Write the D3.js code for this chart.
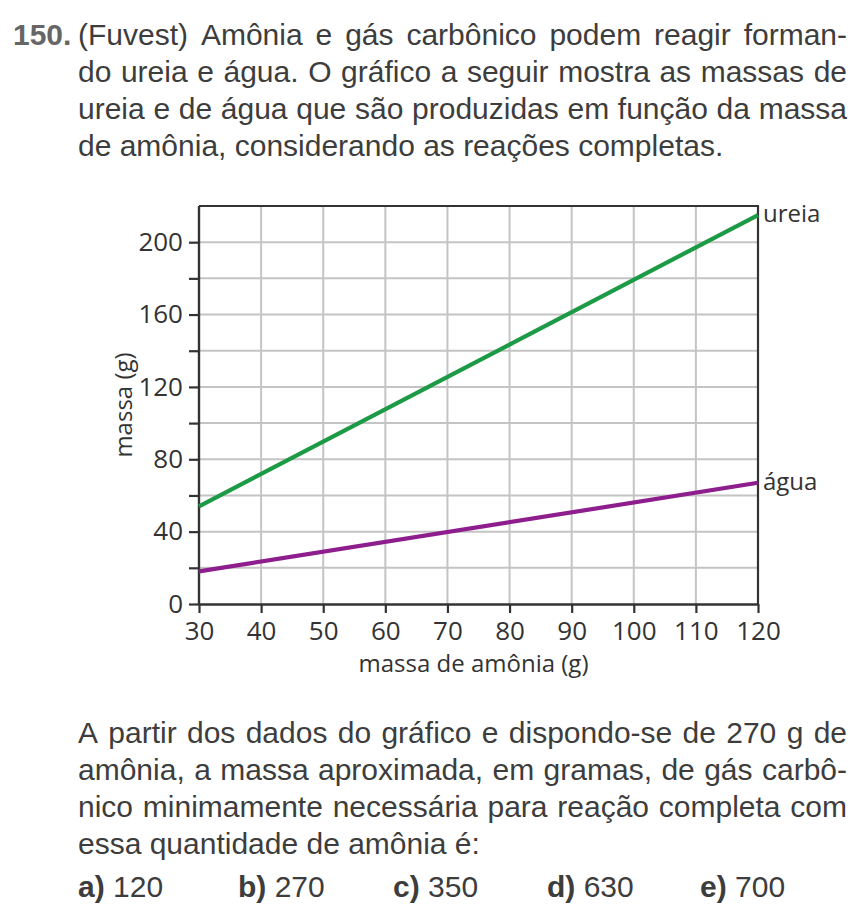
<!DOCTYPE html>
<html><head><meta charset="utf-8">
<script src="https://cdn.jsdelivr.net/npm/d3@7"></script>
<style>
html,body{margin:0;padding:0;background:#fff;}
svg{display:block;}
</style></head>
<body>
<svg id="c" width="864" height="910"></svg>
<script>
// ---- data ----
const xTicks = [30, 40, 50, 60, 70, 80, 90, 100, 110, 120];
const yTicks = [0, 20, 40, 60, 80, 100, 120, 140, 160, 180, 200];
const yLabelTicks = [0, 40, 80, 120, 160, 200];
const ammoniaMass = [30, 120];
const ureiaMass = [54, 215];
const aguaMass = [18, 67];
const seriesNames = ["ureia", "água"];
const questionNumber = "150.";
const introLines = [
  "(Fuvest) Amônia e gás carbônico podem reagir forman-",
  "do ureia e água. O gráfico a seguir mostra as massas de",
  "ureia e de água que são produzidas em função da massa",
  "de amônia, considerando as reações completas."
];
const questionLines = [
  "A partir dos dados do gráfico e dispondo-se de 270 g de",
  "amônia, a massa aproximada, em gramas, de gás carbô-",
  "nico minimamente necessária para reação completa com",
  "essa quantidade de amônia é:"
];
const optionLetters = ["a)", "b)", "c)", "d)", "e)"];
const optionValues = ["120", "270", "350", "630", "700"];

// ---- setup ----
const svg = d3.select("#c");
const textColor = "#3d3d3d";
const bodyFont = "'Liberation Sans', Arial, sans-serif";
const chartFont = "'Open Sans', 'Noto Sans', sans-serif";

const x = d3.scaleLinear().domain([30, 120]).range([199, 758]);
const y = d3.scaleLinear().domain([0, 220]).range([604, 206]);

// justified text helper
function textLine(str, x0, x1, yb, justify) {
  const t = svg.append("text").attr("y", yb)
    .attr("font-family", bodyFont).attr("font-size", 30).attr("fill", textColor);
  const words = str.split(" ");
  const spans = words.map(w => t.append("tspan").text(w));
  const widths = spans.map(s => s.node().getComputedTextLength());
  const total = d3.sum(widths);
  const gap = justify && words.length > 1 ? (x1 - x0 - total) / (words.length - 1) : 8.3;
  let cx = x0;
  spans.forEach((s, i) => { s.attr("x", cx); cx += widths[i] + gap; });
}

// question number
svg.append("text").attr("x", 13).attr("y", 45)
  .attr("font-family", bodyFont).attr("font-size", 30).attr("font-weight", "bold")
  .attr("fill", "#666").text(questionNumber);

const introY = [45, 82, 119, 156];
introLines.forEach((l, i) => textLine(l, 78, 847, introY[i], i < introLines.length - 1));

const qY = [743, 780, 817, 854];
questionLines.forEach((l, i) => textLine(l, 78, 847, qY[i], i < questionLines.length - 1));

const optX = [78, 238, 393, 547, 700];
optionLetters.forEach((L, i) => {
  const t = svg.append("text").attr("x", optX[i]).attr("y", 897)
    .attr("font-family", bodyFont).attr("font-size", 30).attr("fill", textColor);
  t.append("tspan").attr("font-weight", "bold").text(L);
  t.append("tspan").text(" " + optionValues[i]);
});

// ---- chart ----
const g = svg.append("g");
// grid
g.append("g").selectAll("line").data(xTicks.slice(1, -1)).join("line")
  .attr("x1", d => x(d)).attr("x2", d => x(d))
  .attr("y1", y(0)).attr("y2", y(220))
  .attr("stroke", "#c4c4c4").attr("stroke-width", 2);
g.append("g").selectAll("line").data(yTicks.slice(1)).join("line")
  .attr("x1", x(30)).attr("x2", x(120))
  .attr("y1", d => y(d)).attr("y2", d => y(d))
  .attr("stroke", "#c4c4c4").attr("stroke-width", 2);

// frame top/right
g.append("path")
  .attr("d", `M${x(30)},${y(220)}H${x(120)}V${y(0)}`)
  .attr("fill", "none").attr("stroke", "#333").attr("stroke-width", 2.2);

// axes
const yAxis = d3.axisLeft(y).tickValues(yTicks)
  .tickFormat(d => yLabelTicks.includes(d) ? d : "")
  .tickSize(10).tickPadding(6).tickSizeOuter(0);
const ya = g.append("g").attr("transform", `translate(${x(30)},0)`).call(yAxis);
const xAxis = d3.axisBottom(x).tickValues(xTicks)
  .tickSize(9).tickPadding(9).tickSizeOuter(0);
const xa = g.append("g").attr("transform", `translate(0,${y(0)})`).call(xAxis);
[ya, xa].forEach(a => {
  a.select(".domain").attr("stroke", "#333").attr("stroke-width", 2.4);
  a.selectAll(".tick line").attr("stroke", "#333").attr("stroke-width", 2.2);
  a.selectAll(".tick text").attr("font-family", chartFont).attr("font-size", 26)
    .attr("fill", "#333");
});
ya.select(".domain").attr("d", `M0,${y(220)}V${y(0)}`);

// series
const line = d3.line().x(d => x(d[0])).y(d => y(d[1]));
const ureiaData = ammoniaMass.map((a, i) => [a, ureiaMass[i]]);
const aguaData = ammoniaMass.map((a, i) => [a, aguaMass[i]]);
const series = [
  { name: seriesNames[0], data: ureiaData, color: "#1c9a45" },
  { name: seriesNames[1], data: aguaData, color: "#8e1e8e" }
];
series.forEach(s => {
  g.append("path").datum(s.data).attr("d", line)
    .attr("fill", "none").attr("stroke", s.color).attr("stroke-width", 4.2);
  const last = s.data[s.data.length - 1];
  g.append("text").attr("x", x(last[0]) + 5).attr("y", y(last[1]) + 7)
    .attr("font-family", chartFont).attr("font-size", 24).attr("fill", "#333")
    .text(s.name);
});

// axis titles
g.append("text").attr("x", (x(30) + x(120)) / 2 - 5).attr("y", 672)
  .attr("text-anchor", "middle")
  .attr("font-family", chartFont).attr("font-size", 24).attr("fill", "#333")
  .text("massa de amônia (g)");
g.append("text").attr("transform", `translate(132,${(y(0) + y(220)) / 2}) rotate(-90)`)
  .attr("text-anchor", "middle")
  .attr("font-family", chartFont).attr("font-size", 24).attr("fill", "#333")
  .text("massa (g)");
</script>
</body></html>
